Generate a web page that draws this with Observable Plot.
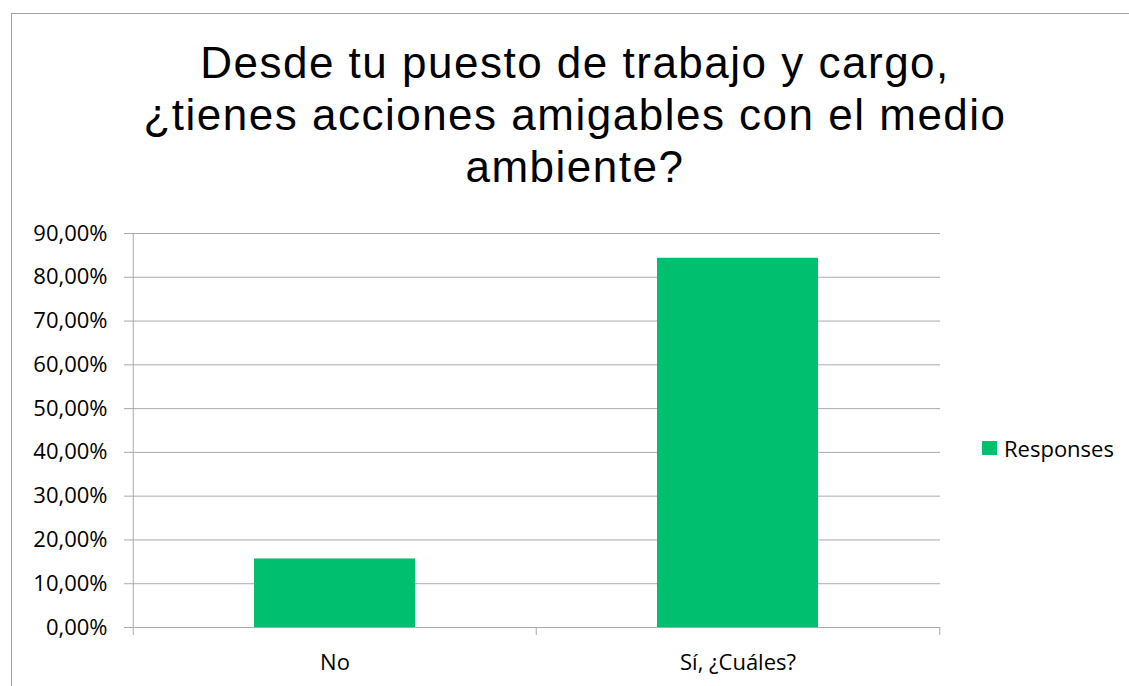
<!DOCTYPE html>
<html>
<head>
<meta charset="utf-8">
<script src="https://cdn.jsdelivr.net/npm/d3@7"></script>
<script src="https://cdn.jsdelivr.net/npm/@observablehq/plot@0.6"></script>
<style>
  html, body { margin: 0; padding: 0; background: #fff; overflow: hidden; }
  #wrap { position: relative; width: 1129px; height: 686px; overflow: hidden; background: #fff; }
  #frame { position: absolute; left: 11px; top: 13px; width: 1200px; height: 800px; border: 1px solid #a0a0a0; box-sizing: border-box; }
  #title { position: absolute; left: 25px; width: 1100px; top: 37px; text-align: center;
           font-family: "Liberation Sans", Arial, sans-serif; font-size: 44px; line-height: 52px;
           letter-spacing: 1.5px; color: #000; }
  #chart { position: absolute; left: 0; top: 200px; }
  #legend { position: absolute; left: 982px; top: 433px; height: 30px; display: flex; align-items: center;
            font-family: "Open Sans", sans-serif; font-size: 22px; color: #000; }
  #legend .sw { width: 15px; height: 14px; margin-right: 7px; }
</style>
</head>
<body>
<div id="wrap">
  <div id="frame"></div>
  <div id="title"></div>
  <div id="chart"></div>
  <div id="legend"></div>
</div>
<script>
// ---- data ----
const titleLines = ["Desde tu puesto de trabajo y cargo,", "¿tienes acciones amigables con el medio", "ambiente?"];
const categories = ["No", "Sí, ¿Cuáles?"];
const responses = [0.1566, 0.8434];
const yTicks = [0, 0.1, 0.2, 0.3, 0.4, 0.5, 0.6, 0.7, 0.8, 0.9];
const seriesName = "Responses";
const barColor = "#00BF6F";
const gridColor = "#aaaaaa";

const data = categories.map((c, i) => ({cat: c, value: responses[i]}));

// title
const titleEl = document.getElementById("title");
titleLines.forEach((t, i) => {
  if (i) titleEl.appendChild(document.createElement("br"));
  titleEl.appendChild(document.createTextNode(t));
});

// legend
const leg = document.getElementById("legend");
const sw = document.createElement("div");
sw.className = "sw";
sw.style.background = barColor;
leg.appendChild(sw);
const lt = document.createElement("span");
lt.textContent = seriesName;
leg.appendChild(lt);

// chart
const W = 1129, H = 486, mL = 133, mR = 189, mT = 33, mB = 59;
const step = (W - mL - mR) / categories.length;
const fmt = d3.formatLocale({decimal: ",", thousands: ".", grouping: [3], currency: ["", "€"]}).format(".2%");
const yMax = yTicks[yTicks.length - 1];

const chart = Plot.plot({
  width: W,
  height: H,
  marginLeft: mL,
  marginRight: mR,
  marginTop: mT,
  marginBottom: mB,
  style: {fontFamily: "'Open Sans', sans-serif", fontSize: "22px", color: "#000", background: "transparent", overflow: "visible"},
  x: {domain: categories, paddingInner: 0.6, paddingOuter: 0.3, axis: null},
  y: {domain: [0, yMax], axis: null},
  marks: [
    Plot.gridY(yTicks, {stroke: gridColor, strokeOpacity: 1}),
    Plot.barY(data, {x: "cat", y: "value", fill: barColor}),
    // y axis line (left band boundary of first category)
    Plot.ruleX([categories[0]], {x: d => d, dx: -step / 2, y1: yMax, y2: 0, insetBottom: -8, stroke: gridColor}),
    // category boundary ticks
    Plot.ruleX(categories.slice(1), {x: d => d, dx: -step / 2, y1: 0, y2: 0, insetBottom: -8, stroke: gridColor}),
    Plot.ruleX([categories[categories.length - 1]], {x: d => d, dx: step / 2, y1: 0, y2: 0, insetBottom: -8, stroke: gridColor}),
    Plot.axisY(yTicks, {tickFormat: fmt, tickSize: 9, tickPadding: 17, stroke: gridColor, strokeOpacity: 1, label: null, fill: "#000"}),
    Plot.axisX({tickSize: 0, tickPadding: 27, label: null, fill: "#000"})
  ]
});
document.getElementById("chart").appendChild(chart);
</script>
</body>
</html>
